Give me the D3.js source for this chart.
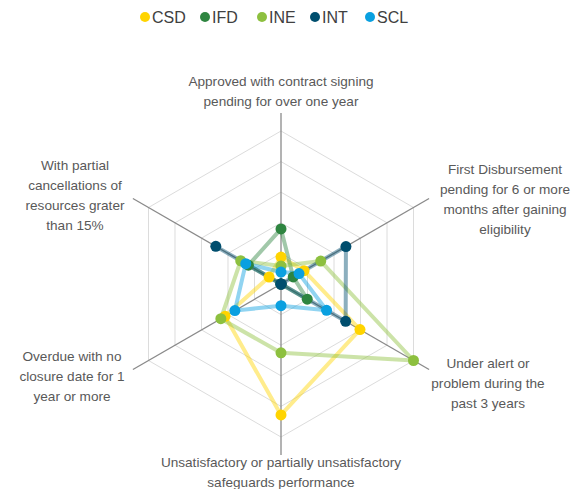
<!DOCTYPE html>
<html><head><meta charset="utf-8">
<script src="https://cdn.jsdelivr.net/npm/d3@7"></script>
<style>body{margin:0;background:#fff}svg{display:block}</style>
</head><body>
<svg id="chart" width="571" height="489"></svg>
<script>
const axesLabels = [
  ["Approved with contract signing", "pending for over one year"],
  ["First Disbursement", "pending for 6 or more", "months after gaining", "eligibility"],
  ["Under alert or", "problem during the", "past 3 years"],
  ["Unsatisfactory or partially unsatisfactory", "safeguards performance"],
  ["Overdue with no", "closure date for 1", "year or more"],
  ["With partial", "cancellations of", "resources grater", "than 15%"]
];
const seriesNames = ["CSD", "IFD", "INE", "INT", "SCL"];
const CSD = [8.8, 8.7, 29.8, 42.8, 21.1, 4.5];
const IFD = [18, 4.6, 9.9, 0, 0, 12.3];
const INE = [5.9, 15, 50, 22.5, 22.7, 15.2];
const INT = [0, 24.5, 24.4, 0, 0, 24.6];
const SCL = [3.9, 6.8, 17.2, 7.1, 17.4, 13.3];
const seriesValues = [CSD, IFD, INE, INT, SCL];
const gridTicks = [10, 20, 30, 40, 50];
const colors = ["#FFD400", "#2E8540", "#8DC03F", "#004E6E", "#0AA0E0"];

const svg = d3.select("#chart");
const cx = 281, cy = 284, R = 153;
const r = d3.scaleLinear().domain([0, 50]).range([0, R]);
const n = axesLabels.length;
const ang = d3.scaleLinear().domain([0, n]).range([0, 2 * Math.PI]);
const pt = (i, v) => [cx + r(v) * Math.sin(ang(i)), cy - r(v) * Math.cos(ang(i))];

// grid
const g = svg.append("g");
gridTicks.forEach(t => {
  const pts = d3.range(n).map(i => pt(i, t));
  g.append("path").attr("d", d3.line()(pts) + "Z")
    .attr("fill", "none").attr("stroke", "#dcdcdc").attr("stroke-width", 1);
});
// axes
d3.range(n).forEach(i => {
  const e = pt(i, r.invert(R + 18));
  g.append("line").attr("x1", cx).attr("y1", cy).attr("x2", e[0]).attr("y2", e[1])
    .attr("stroke", "#8a8a8a").attr("stroke-width", 1.3);
});

// labels
const labelPos = [[0, -193], [224, -85], [207, 99], [0, 188], [-209, 92], [-206, -89]];
const lh = 20;
axesLabels.forEach((lines, i) => {
  const [dx, dy] = labelPos[i];
  const t = svg.append("text").attr("text-anchor", "middle")
    .attr("font-family", "Liberation Sans, Arial, sans-serif").attr("font-size", 13.6)
    .attr("fill", "#595959");
  const y0 = cy + dy - (lines.length - 1) * lh / 2;
  lines.forEach((s, k) => {
    t.append("tspan").attr("x", cx + dx).attr("y", y0 + k * lh).attr("dy", "0.35em").text(s);
  });
});

// series
const line = d3.line().curve(d3.curveLinearClosed);
seriesValues.forEach((vals, s) => {
  const pts = vals.map((v, i) => pt(i, v));
  svg.append("path").attr("d", line(pts)).attr("fill", "none")
    .attr("stroke", colors[s]).attr("stroke-width", 4).attr("stroke-opacity", 0.45)
    .attr("stroke-linejoin", "round");
});
seriesValues.forEach((vals, s) => {
  svg.append("g").selectAll("circle").data(vals).join("circle")
    .attr("cx", (v, i) => pt(i, v)[0]).attr("cy", (v, i) => pt(i, v)[1])
    .attr("r", 5.5).attr("fill", colors[s]);
});

// legend
const legX = [145, 205, 262, 315, 370];
const leg = svg.append("g");
seriesNames.forEach((name, s) => {
  leg.append("circle").attr("cx", legX[s]).attr("cy", 17).attr("r", 5).attr("fill", colors[s]);
  leg.append("text").attr("x", legX[s] + 7).attr("y", 17).attr("dy", "0.35em")
    .attr("font-family", "Liberation Sans, Arial, sans-serif").attr("font-size", 16)
    .attr("fill", "#404040").text(name);
});
</script>
</body></html>
